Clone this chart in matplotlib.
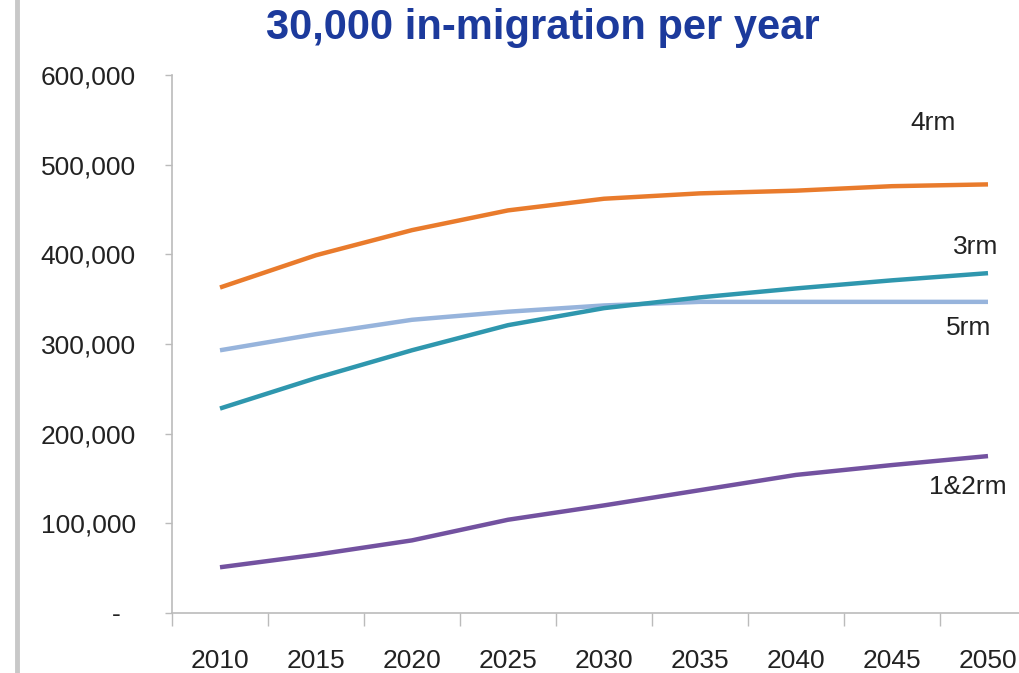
import matplotlib
matplotlib.use('Agg')
import matplotlib.pyplot as plt
from matplotlib.ticker import FuncFormatter, FixedLocator

years = ['2010', '2015', '2020', '2025', '2030', '2035', '2040', '2045', '2050']
rm4 = [363000, 399000, 427000, 449000, 462000, 468000, 471000, 476000, 478000]
rm3 = [228000, 262000, 293000, 321000, 340000, 352000, 362000, 371000, 379000]
rm5 = [293000, 311000, 327000, 336000, 343000, 347000, 347000, 347000, 347000]
rm12 = [51000, 65000, 81000, 104000, 120000, 137000, 154000, 165000, 175000]
yticks = [0, 100000, 200000, 300000, 400000, 500000, 600000]

plt.rcParams['font.family'] = ['Liberation Sans', 'DejaVu Sans']

fig = plt.figure(figsize=(10.2, 6.73), dpi=100)
ax = fig.add_axes([172 / 1020, 1 - 613 / 673, 1 - 172 / 1020, (613 - 75) / 673])

x = list(range(len(years)))
ax.plot(x, rm4, color='#E97B2C', lw=3.2, solid_capstyle='butt')
ax.plot(x, rm5, color='#97B4DC', lw=3.2, solid_capstyle='butt')
ax.plot(x, rm3, color='#2F97AE', lw=3.2, solid_capstyle='butt')
ax.plot(x, rm12, color='#7352A0', lw=3.2, solid_capstyle='butt')

ax.set_xlim(-0.5, -0.5 + 848 / 96)
ax.set_ylim(0, 600000)

ax.set_xticks(x)
ax.set_xticklabels(years)
ax.xaxis.set_minor_locator(FixedLocator([i - 0.5 for i in range(len(years) + 1)]))
ax.tick_params(axis='x', which='major', length=0, pad=26, labelsize=19, labelcolor='#222222')
ax.tick_params(axis='x', which='minor', length=9, color='#BBBBBB', width=1)

ax.set_yticks(yticks)
ax.yaxis.set_major_formatter(FuncFormatter(lambda v, p: '-  ' if v == 0 else f'{int(v):,}'))
ax.tick_params(axis='y', length=5, color='#BBBBBB', width=1, pad=21, labelsize=19, labelcolor='#222222')

for s in ['top', 'right']:
    ax.spines[s].set_visible(False)
for s in ['left', 'bottom']:
    ax.spines[s].set_color('#BBBBBB')
    ax.spines[s].set_linewidth(1.2)

ax.text(7.43, 546000, '4rm', fontsize=19, color='#222222', ha='center', va='center')
ax.text(7.875, 408000, '3rm', fontsize=19, color='#222222', ha='center', va='center')
ax.text(7.80, 318000, '5rm', fontsize=19, color='#222222', ha='center', va='center')
ax.text(7.79, 140000, '1&2rm', fontsize=19, color='#222222', ha='center', va='center')

fig.text(543 / 1020, 1 - 28 / 673, '30,000 in-migration per year', fontsize=30,
         fontweight='bold', color='#1C3A9C', ha='center', va='center')

fig.add_artist(plt.Line2D([17 / 1020, 17 / 1020], [0, 1], color='#C8C8C8', lw=3.5,
                          transform=fig.transFigure))

fig.savefig('out.png', dpi=100)
